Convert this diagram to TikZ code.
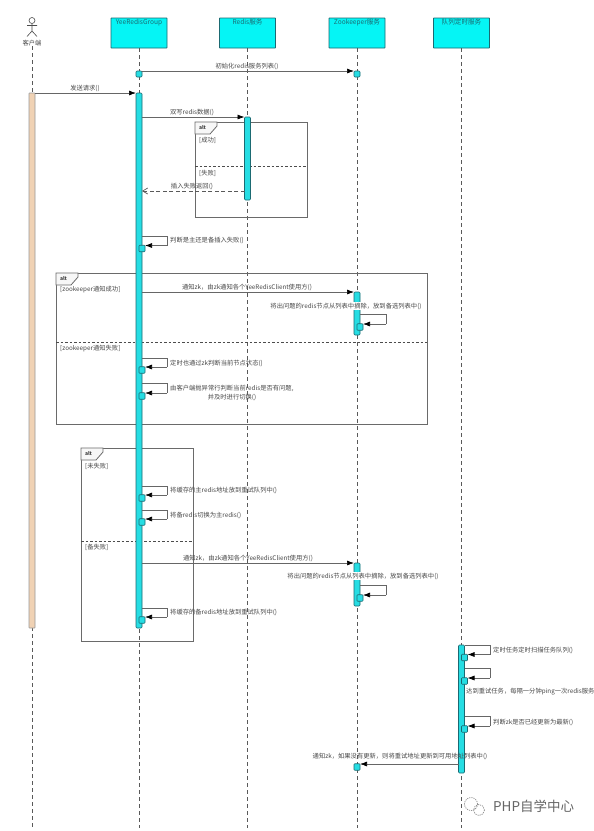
\documentclass[tikz,border=0pt]{standalone}
\usepackage{fontspec}
\setmainfont{Noto Sans CJK SC}
\usetikzlibrary{arrows.meta}
\definecolor{boxfill}{HTML}{05F5F5}
\definecolor{boxline}{HTML}{1B6A72}
\definecolor{barfill}{HTML}{26DDE3}
\definecolor{peach}{HTML}{F0D2B4}
\definecolor{txt}{HTML}{484848}
\definecolor{frameline}{HTML}{6A6A6A}
\tikzset{
  head/.style={draw=boxline,line width=0.9pt,fill=boxfill,rounded corners=0.6pt,minimum width=56pt,minimum height=30pt,inner sep=0pt,outer sep=0pt},
  headtext/.style={text=boxline,font=\fontsize{6.6}{8}\selectfont,inner sep=0pt},
  life/.style={draw=black!65,line width=0.7pt,dash pattern=on 4pt off 3pt},
  actbar/.style={draw=boxline,line width=0.6pt,fill=barfill,rounded corners=1pt,minimum width=6pt,inner sep=0pt,outer sep=0pt},
  clientbar/.style={draw=black!40,line width=0.6pt,fill=peach,rounded corners=0.5pt,minimum width=6pt,inner sep=0pt,outer sep=0pt},
  msg/.style={draw=black!60,line width=0.7pt,-{Latex[black,length=7pt,width=5pt]}},
  retmsg/.style={draw=black!65,line width=0.7pt,dash pattern=on 4pt off 2.5pt,-{Straight Barb[black!65,length=5pt,width=6pt]}},
  lab/.style={text=txt,font=\fontsize{6.3}{7.6}\selectfont,inner sep=0pt},
  labl/.style={lab,anchor=west},
  frm/.style={draw=frameline,line width=0.8pt},
  frmdiv/.style={draw=black!70,line width=0.6pt,dash pattern=on 2.5pt off 2pt},
  tabfill/.style={draw=frameline,line width=0.8pt,fill=black!3},
}
% \actv{name}{x}{top}{bottom}
\newcommand{\actv}[4]{\node[actbar,minimum height={#4-#3}] (#1) at (#2,{(#3+#4)/2}) {};}
% \selfcall{bar}{small}{right x}{y1}{y2}
\newcommand{\selfcall}[5]{%
  \draw[draw=black!60,line width=0.7pt] (#1.east |- 0,#4) -- (#3,#4) -- (#3,#5);
  \coordinate (#2turn) at (#3,#5);
  \node[actbar,minimum height=6.5pt,rounded corners=0.8pt] (#2) at (#1.center |- 0,{#5+3}) [xshift=3pt] {};
  \draw[msg] (#2turn) -- (#2.east |- #2turn);
}
\newcommand{\altframe}[6]{% name x1 y1 x2 y2 divider
  \node[inner sep=0pt,outer sep=0pt,minimum size=0pt] (#1) at (#2,#3) {};
  \draw[frm] (#1) rectangle (#4,#5);
  \draw[frmdiv] (#2,#6) -- (#4,#6);
  \draw[tabfill] (#1) -- ++(22,0) -- ++(0,4) -- ++(-7,8) -- ++(-15,0) -- cycle;
  \node[font=\fontsize{5}{6}\bfseries\selectfont,text=black!75,inner sep=0pt] at (#2+7.5,#3+6) {alt};
}
\begin{document}
\begin{tikzpicture}[x=1pt,y=-1pt]
\useasboundingbox[fill=white] (0,0) rectangle (594,831);
% lifelines heads
\node[head] (yee) at (139,33) {};
\node[head] (red) at (247.5,33) {};
\node[head] (zk) at (357,33) {};
\node[head] (que) at (461.5,33) {};
\node[headtext,anchor=north] at (139,19) {YeeRedisGroup};
\node[headtext,anchor=north] at (247.5,19) {Redis服务};
\node[headtext,anchor=north] at (357,19) {Zookeeper服务};
\node[headtext,anchor=north] at (461.5,19) {队列定时服务};
% actor
\node[draw=black!70,circle,line width=0.6pt,minimum size=6pt,inner sep=0pt] (acthead) at (32,20.5) {};
\coordinate (hip) at (32,31);
\draw[draw=black!70,line width=0.6pt] (acthead.south) -- (hip) (27,25.5) -- (37,25.5) (27,36.5) -- (hip) -- (37,36.5);
\node[lab] (client) at (32,43) {客户端};
\coordinate (e0) at (32,828); \coordinate (e1) at (139,828); \coordinate (e2) at (247.5,828); \coordinate (e3) at (357,828); \coordinate (e4) at (461.5,828);
\draw[life] (client.south) -- (e0);
\draw[life] (yee.south) -- (e1);
\draw[life] (red.south) -- (e2);
\draw[life] (zk.south) -- (e3);
\draw[life] (que.south) -- (e4);
% frames
\altframe{fa}{195}{122}{307}{217}{166}
\altframe{fb}{56}{273}{427}{424}{342}
\altframe{fc}{81}{448}{193}{641}{541}
\node[labl] at (199,140) {[成功]};
\node[labl] at (199,173) {[失败]};
\node[labl] at (60,290) {[zookeeper通知成功]};
\node[labl] at (60,349) {[zookeeper通知失败]};
\node[labl] at (85,466) {[未失败]};
\node[labl] at (85,547) {[备失败]};
% bars
\node[clientbar,minimum height=535pt] (cbar) at (32,360.5) {};
\actv{y0}{139}{71}{77}
\actv{z0}{357}{71}{77}
\actv{ybar}{139}{93}{628}
\actv{rbar}{247.5}{117}{200}
\actv{z1}{357}{292}{335}
\actv{z2}{357}{563}{606}
\actv{qbar}{461.5}{645}{773}
\node[actbar,minimum height=6.5pt,rounded corners=0.8pt] (z3) at (357,767) {};
% messages
\draw[msg] (y0.east |- 0,71) -- (z0.west |- 0,71);
\node[lab] at (247,66) {初始化redis服务列表()};
\draw[msg] (cbar.east |- 0,93) -- (ybar.west |- 0,93);
\node[lab] at (85,88) {发送请求()};
\draw[msg] (ybar.east |- 0,117) -- (rbar.west |- 0,117);
\node[lab] at (192,112) {双写redis数据()};
\draw[retmsg] (rbar.west |- 0,191) -- (ybar.east |- 0,191);
\node[lab] at (192,186) {插入失败返回()};
\selfcall{ybar}{s1}{167}{236}{245.5}
\node[labl] at (170,240) {判断是主还是备插入失败()};
\draw[msg] (ybar.east |- 0,292) -- (z1.west |- 0,292);
\node[lab] at (247,287) {通知zk，由zk通知各个YeeRedisClient使用方()};
\node[lab,fill=white,inner ysep=1pt] at (346,306) {将出问题的redis节点从列表中摘除，放到备选列表中()};
\selfcall{z1}{s2}{386}{314}{324}
\selfcall{ybar}{s3}{167}{358}{367}
\node[labl] at (170,363) {定时也通过zk判断当前节点状态()};
\selfcall{ybar}{s4}{167}{383}{393}
\node[labl] at (170,388) {由客户端抛异常行判断当前redis是否有问题,};
\node[lab] at (232,397) {并及时进行切换()};
\selfcall{ybar}{s5}{167}{486}{495}
\node[labl] at (170,490) {将缓存的主redis地址放到重试队列中()};
\selfcall{ybar}{s6}{167}{510}{519}
\node[labl] at (170,515) {将备redis切换为主redis()};
\draw[msg] (ybar.east |- 0,563) -- (z2.west |- 0,563);
\node[lab] at (248,558) {通知zk，由zk通知各个YeeRedisClient使用方()};
\node[lab,fill=white,inner ysep=1pt] at (363,576) {将出问题的redis节点从列表中摘除，放到备选列表中()};
\selfcall{z2}{s7}{386}{585}{595}
\selfcall{ybar}{s8}{167}{608}{617}
\node[labl] at (170,612) {将缓存的备redis地址放到重试队列中()};
\selfcall{qbar}{s9}{490}{645}{654.5}
\node[labl] at (493,650) {定时任务定时扫描任务队列()};
\selfcall{qbar}{s10}{490}{668}{678}
\node[labl] at (466,692) {达到重试任务，每隔一分钟ping一次redis服务};
\selfcall{qbar}{s11}{490}{716}{726}
\node[labl] at (493,722) {判断zk是否已经更新为最新()};
\draw[msg] (qbar.west |- 0,764) -- (z3.east |- 0,764);
\node[lab] at (400,756) {通知zk，如果没有更新，则将重试地址更新到可用地址列表中()};
% watermark
\draw[black!45,line width=0.7pt,dash pattern=on 1.2pt off 1pt] (471,804) circle [radius=6.5];
\draw[black!45,line width=0.7pt,dash pattern=on 1.2pt off 1pt] (479,810) circle [radius=5.5];
\node[anchor=west,inner sep=0pt,text=black!60,font=\fontsize{13.5}{15}\selectfont] at (493,806) {PHP自学中心};
\end{tikzpicture}
\end{document}
